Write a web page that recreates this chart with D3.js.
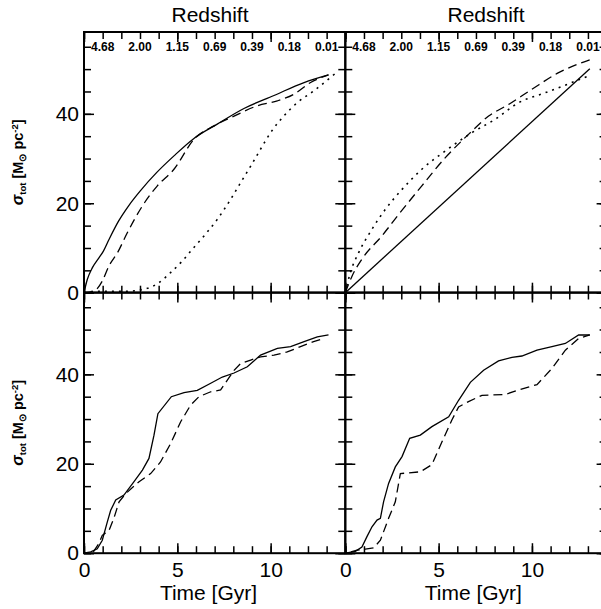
<!DOCTYPE html>
<html>
<head>
<meta charset="utf-8">
<script src="https://cdn.jsdelivr.net/npm/d3@7"></script>
<style>
  body { margin: 0; background: #fff; }
  svg { display: block; }
</style>
</head>
<body>
<script>
// Cumulative surface density vs time, four panels ([t Gyr, sigma])

const topLeftSolid = [[0,0],[0.18,3.0],[0.45,5.6],[0.8,7.8],[1.04,9.3],[1.34,11.9],[1.85,16.0],[2.4,19.5],[3.04,22.9],[3.9,26.9],[4.82,30.6],[5.89,34.5],[7.14,37.7],[8.57,41.2],[10.18,44.1],[11.79,47.0],[13.1,48.7]];
const topLeftDashed = [[0,0],[0.55,0.4],[0.98,2.6],[1.34,6.0],[1.79,8.9],[2.32,13.4],[3.13,19.4],[3.93,23.9],[4.82,27.6],[5.89,34.3],[6.96,37.3],[8.04,39.5],[9.29,41.8],[10.36,42.9],[11.25,44.4],[12.14,47.0],[13.1,48.7]];
const topLeftDotted = [[0,0],[0.6,0.3],[2.2,0.3],[3.4,1.0],[4.0,2.2],[4.64,4.5],[5.27,7.1],[5.8,9.7],[6.43,12.7],[7.14,16.4],[7.86,20.9],[8.39,24.6],[8.93,28.3],[9.46,32.1],[10.0,35.8],[10.7,39.5],[11.43,42.5],[12.3,45.1],[13.45,49.0]];

const topRightSolid = [[0,0],[13.1,50.1]];
const topRightDashed = [[0,0],[0.36,3.7],[0.89,7.5],[1.96,12.7],[2.86,17.5],[4.1,23.9],[5.36,30.2],[6.6,35.4],[7.68,39.5],[8.75,42.1],[10.0,45.5],[11.43,49.2],[13.2,52.2]];
const topRightDotted = [[0,0],[0.27,4.5],[0.71,8.9],[1.43,14.2],[2.14,18.6],[3.04,23.1],[4.1,27.6],[5.36,31.7],[6.79,35.8],[8.04,38.8],[9.29,42.5],[10.7,44.7],[12.14,47.0],[13.1,48.6]];

const bottomLeftSolid = [[0,0],[0.36,0.3],[0.71,1.0],[0.98,2.9],[1.25,7.0],[1.43,9.6],[1.7,11.9],[2.14,13.0],[2.68,16.0],[3.13,18.6],[3.48,21.2],[3.75,26.4],[3.96,31.2],[4.68,35.0],[5.36,35.9],[6.07,36.4],[6.79,38.0],[7.41,39.4],[8.04,40.3],[8.75,41.7],[9.46,44.3],[10.36,45.8],[11.07,46.2],[11.79,47.3],[12.5,48.4],[13.1,48.8]];
const bottomLeftDashed = [[0.5,0.3],[0.8,2.2],[0.98,4.0],[1.34,5.1],[1.6,7.8],[1.88,11.5],[2.23,13.3],[2.95,16.0],[3.57,17.8],[4.1,20.4],[4.64,24.5],[5.18,29.4],[5.71,33.1],[6.16,35.0],[6.79,36.1],[7.32,36.5],[7.68,38.7],[8.04,40.9],[8.39,42.4],[8.93,43.2],[9.46,43.9],[10.18,44.3],[10.89,45.0],[11.6,46.2],[12.3,47.3],[12.86,48.0]];

const bottomRightSolid = [[0,0],[0.54,0.4],[0.89,1.4],[1.16,3.7],[1.43,5.9],[1.7,7.4],[1.88,7.8],[2.05,11.5],[2.32,15.6],[2.68,19.3],[3.04,21.6],[3.45,25.7],[4.02,26.4],[4.64,28.3],[5.54,30.5],[6.07,34.2],[6.7,38.2],[7.41,40.9],[8.21,43.0],[8.93,43.8],[9.46,44.1],[10.27,45.4],[11.07,46.2],[11.79,46.9],[12.5,48.8],[13.1,48.8]];
const bottomRightDashed = [[0.3,0.3],[0.63,0.7],[1.07,0.9],[1.52,1.2],[1.88,2.9],[2.32,7.8],[2.68,11.5],[2.95,17.8],[4.02,18.2],[4.64,19.8],[5.18,24.9],[5.71,29.8],[6.07,32.7],[6.6,33.9],[7.32,35.3],[8.57,35.5],[9.29,36.5],[10.27,37.7],[11.07,41.3],[11.79,45.4],[12.5,48.0],[13.1,48.8]];

const redshiftTimes = [1, 3, 5, 7, 9, 11, 13];
const redshiftLabels = ["4.68", "2.00", "1.15", "0.69", "0.39", "0.18", "0.01"];
const xMinorTicks = d3.range(0, 15, 1);
const xMajorTicks = [0, 5, 10];
const yMinorTicks = d3.range(0, 60, 5);
const yMajorTicks = [0, 20, 40];

const colX = [84, 345.3];
const rowY = [32, 292.5];
const pw = 261.3, ph = 260.7;
const font = "'Liberation Sans', Arial, Helvetica, sans-serif";

const svg = d3.select("body").append("svg")
    .attr("width", 601)
    .attr("height", 609);

const panels = [
    {col: 0, row: 0, smooth: true, series: [[topLeftSolid, null], [topLeftDashed, "9,5"], [topLeftDotted, "2,5"]]},
    {col: 1, row: 0, smooth: true, series: [[topRightSolid, null], [topRightDashed, "9,5"], [topRightDotted, "2,5"]]},
    {col: 0, row: 1, smooth: false, series: [[bottomLeftSolid, null], [bottomLeftDashed, "9,5"]]},
    {col: 1, row: 1, smooth: false, series: [[bottomRightSolid, null], [bottomRightDashed, "9,5"]]},
];

panels.forEach(function (p) {
    const x0 = colX[p.col], y0 = rowY[p.row];
    const x = d3.scaleLinear().domain([0, 14]).range([0, pw]);
    const y = d3.scaleLinear().domain([0, 58.3]).range([ph, 0]);
    const g = svg.append("g").attr("transform", `translate(${x0},${y0})`);

    // ticks, all pointing inward
    const tickAxes = [
        [d3.axisBottom(x), `translate(0,${ph})`, xMinorTicks, -7],
        [d3.axisBottom(x), `translate(0,${ph})`, xMajorTicks, -10],
        [d3.axisTop(x), "translate(0,0)", xMinorTicks, -7],
        [d3.axisTop(x), "translate(0,0)", xMajorTicks, -10],
        [d3.axisLeft(y), "translate(0,0)", yMinorTicks, -7],
        [d3.axisLeft(y), "translate(0,0)", yMajorTicks, -10],
        [d3.axisRight(y), `translate(${pw},0)`, yMinorTicks, -7],
        [d3.axisRight(y), `translate(${pw},0)`, yMajorTicks, -10],
    ];
    tickAxes.forEach(function (a) {
        const ax = g.append("g").attr("transform", a[1])
            .call(a[0].tickValues(a[2]).tickSize(a[3]).tickFormat(""));
        ax.select(".domain").remove();
        ax.selectAll("line").attr("stroke", "#000").attr("stroke-width", 1.5);
    });

    // curves
    const line = d3.line().x(d => x(d[0])).y(d => y(d[1]));
    if (p.smooth) line.curve(d3.curveMonotoneX);
    p.series.forEach(function (s) {
        g.append("path")
            .datum(s[0])
            .attr("d", line)
            .attr("fill", "none")
            .attr("stroke", "#000")
            .attr("stroke-width", s[1] === "2,5" ? 1.6 : 1.3)
            .attr("stroke-dasharray", s[1]);
    });

    // frame
    g.append("rect")
        .attr("width", pw).attr("height", ph)
        .attr("fill", "none").attr("stroke", "#000").attr("stroke-width", 2);

    // y tick labels on left column
    if (p.col === 0) {
        const ay = g.append("g")
            .call(d3.axisLeft(y).tickValues(yMajorTicks).tickSize(0).tickPadding(5).tickFormat(d3.format("d")));
        ay.select(".domain").remove();
        ay.selectAll("text").style("font-family", font).style("font-size", "21px").attr("fill", "#000");

        const yl = svg.append("text")
            .attr("transform", `translate(23,${y0 + ph / 2}) rotate(-90)`)
            .attr("text-anchor", "middle")
            .style("font-family", font)
            .style("font-weight", "bold")
            .style("font-size", "14.5px");
        yl.append("tspan").text("σ").style("font-style", "italic").style("font-size", "16px");
        yl.append("tspan").text("tot").attr("dy", 3).style("font-size", "9.5px");
        yl.append("tspan").text(" [M").attr("dy", -3);
        yl.append("tspan").text("⊙").attr("dy", 3).style("font-size", "9.5px");
        yl.append("tspan").text(" pc").attr("dy", -3);
        yl.append("tspan").text("-2").attr("dy", -5).style("font-size", "9.5px");
        yl.append("tspan").text("]").attr("dy", 5);
    }

    // bottom row: time axis labels
    if (p.row === 1) {
        const ax = g.append("g").attr("transform", `translate(0,${ph})`)
            .call(d3.axisBottom(x).tickValues(xMajorTicks).tickSize(0).tickPadding(9).tickFormat(d3.format("d")));
        ax.select(".domain").remove();
        ax.selectAll("text").style("font-family", font).style("font-size", "21px").attr("fill", "#000");
        g.append("text")
            .attr("x", p.col === 0 ? 124.5 : 128)
            .attr("y", 307.5)
            .attr("text-anchor", "middle")
            .style("font-family", font)
            .style("font-size", "21px")
            .text("Time [Gyr]");
    }

    // top row: redshift labels
    if (p.row === 0) {
        g.selectAll(".zlab")
            .data(redshiftTimes)
            .enter().append("text")
            .attr("x", d => x(d))
            .attr("y", 19)
            .attr("text-anchor", "middle")
            .style("font-family", font)
            .style("font-weight", "bold")
            .style("font-size", "12px")
            .text((d, i) => redshiftLabels[i]);
        g.append("text")
            .attr("x", p.col === 0 ? 126 : 140.7)
            .attr("y", -10.5)
            .attr("text-anchor", "middle")
            .style("font-family", font)
            .style("font-size", "21px")
            .text("Redshift");
    }
});
</script>
</body>
</html>
